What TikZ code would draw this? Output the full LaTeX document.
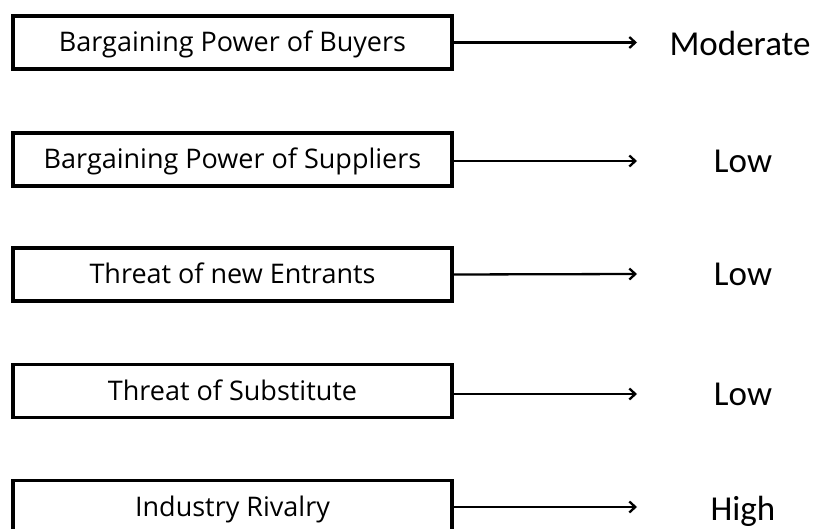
\documentclass[tikz,border=0pt]{standalone}
\usepackage{fontspec}
\setmainfont{Open Sans}
\newfontfamily\ratingfont{Carlito}
\usetikzlibrary{arrows.meta}
\tikzset{   force/.style = {rectangle, draw = black, line width = 3.5pt, fill = white, minimum width = 439pt, minimum height = 53pt, inner sep = 0pt, text height = 19pt, text depth = 0pt, font = \fontsize{27}{30}\selectfont},
            rating/.style = {anchor = base, font = \ratingfont\fontsize{35}{40}\selectfont},
            link/.style = {line width = 2.3pt, -{Straight Barb[length=6pt,width=11pt]}}}

\begin{document}
\begin{tikzpicture}[x=1pt,y=-1pt]
                        \useasboundingbox (0,0) rectangle (817,529);
                        % the five forces
                        \node[force] (buyers) at (232.5,42.5) {Bargaining Power of Buyers};
                        \node[force] (suppliers) at (232.5,159.5) {Bargaining Power of Suppliers};
                        \node[force] (entrants) at (232.5,274.5) {Threat of new Entrants};
                        \node[force] (substitute) at (232.5,391) {Threat of Substitute};
                        \node[force] (rivalry) at (232.5,507) {Industry Rivalry};
                        % where the arrows stop
                        \coordinate (buyersend) at (637,42.5);
                        \coordinate (suppliersend) at (637,161);
                        \coordinate (entrantsend) at (637,274);
                        \coordinate (substituteend) at (637,394);
                        \coordinate (rivalryend) at (637,507);
                        \draw[link] (buyers.east) -- (buyersend);
                        \draw[link] (suppliers.east |- suppliersend) -- (suppliersend);
                        \draw[link] (entrants.east) -- (entrantsend);
                        \draw[link] (substitute.east |- substituteend) -- (substituteend);
                        \draw[link] (rivalry.east) -- (rivalryend);
                        % ratings
                        \node[rating] (buyersrate) at (740,56) {Moderate};
                        \node[rating] (suppliersrate) at (743,173) {Low};
                        \node[rating] (entrantsrate) at (743,286) {Low};
                        \node[rating] (substituterate) at (743,406) {Low};
                        \node[rating] (rivalryrate) at (743,520) {High};
\end{tikzpicture}
\end{document}
